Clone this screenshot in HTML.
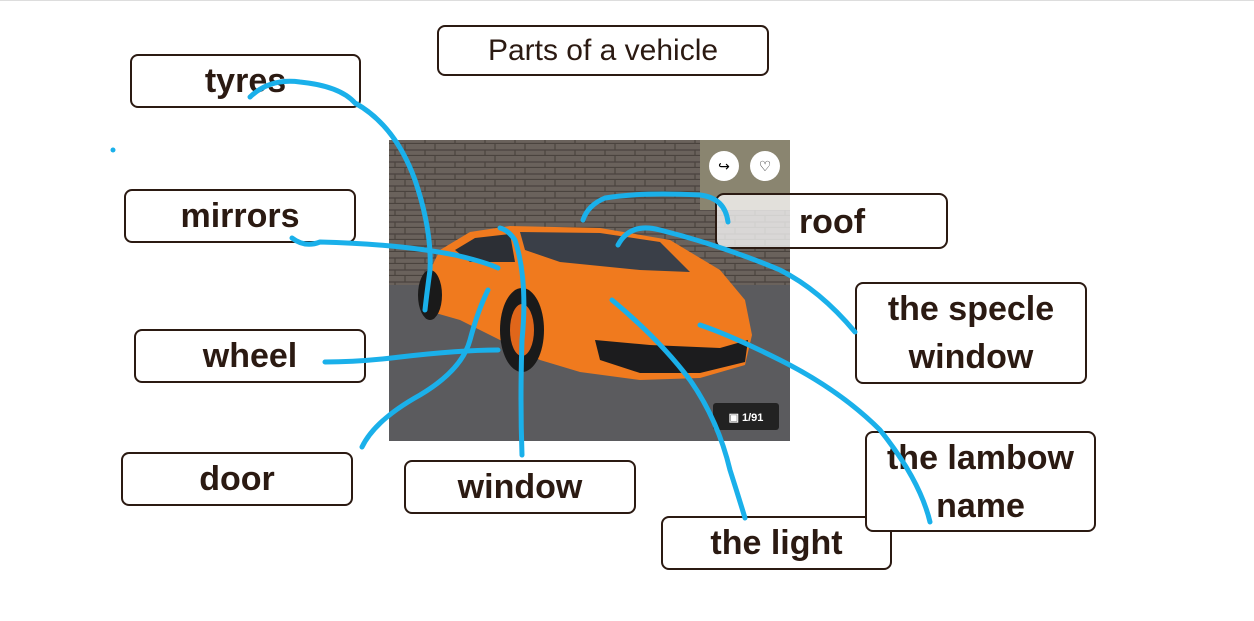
<!DOCTYPE html>
<html><head><meta charset="utf-8"><style>
body{margin:0;width:1254px;height:621px;background:#fff;position:relative;overflow:hidden;font-family:"Liberation Sans",sans-serif}
.b{position:absolute;border:2px solid #2b1a12;border-radius:8px;background:#fff;color:#2b1a12;font-weight:bold;font-size:34px;display:flex;align-items:center;justify-content:center;text-align:center;line-height:48px;box-sizing:border-box}
svg{position:absolute;left:0;top:0}
</style></head><body>
<div style="position:absolute;left:0;top:0;width:1254px;height:1px;background:#ddd"></div>
<div class="b" style="left:437px;top:25px;width:332px;height:51px;font-weight:normal;font-size:30px">Parts of a vehicle</div>
<div class="b" style="left:130px;top:54px;width:231px;height:54px">tyres</div>
<div class="b" style="left:124px;top:189px;width:232px;height:54px">mirrors</div>
<div class="b" style="left:134px;top:329px;width:232px;height:54px">wheel</div>
<div class="b" style="left:121px;top:452px;width:232px;height:54px">door</div>
<div class="b" style="left:404px;top:460px;width:232px;height:54px">window</div>
<div class="b" style="left:661px;top:516px;width:231px;height:54px">the light</div>
<div class="b" style="left:855px;top:282px;width:232px;height:102px">the specle<br>window</div>
<div class="b" style="left:865px;top:431px;width:231px;height:101px">the lambow<br>name</div>
<svg width="1254" height="621" viewBox="0 0 1254 621">
<defs><pattern id="br" width="30" height="12" patternUnits="userSpaceOnUse"><rect width="30" height="12" fill="#6a625c"/><path d="M0 11.5H30M15 0V6M0 6H30M5 6V12" stroke="#4a433e" stroke-width="1.2"/></pattern></defs>
<rect x="389" y="140" width="401" height="301" rx="4" fill="#58585a"/>
<rect x="389" y="140" width="401" height="148" fill="url(#br)"/>
<rect x="389" y="285" width="401" height="156" fill="#5b5b5e"/>
<rect x="700" y="140" width="90" height="70" fill="#8a8570"/>
<path d="M420 290 L440 250 L470 232 L510 226 L600 228 L670 240 L720 270 L745 300 L752 335 L745 365 L700 378 L640 380 L580 372 L540 360 L500 340 L460 320 L425 310 Z" fill="#f07a1e"/>
<path d="M520 232 L600 233 L660 242 L690 272 L640 270 L560 262 L525 250 Z" fill="#3a3f48"/>
<path d="M455 250 L475 238 L510 234 L515 262 L470 262 Z" fill="#2c2f35"/>
<path d="M595 340 L650 345 L720 348 L748 340 L745 362 L700 373 L640 373 L600 360 Z" fill="#1c1c1e"/>
<ellipse cx="522" cy="330" rx="22" ry="42" fill="#1a1a1a"/><ellipse cx="522" cy="330" rx="12" ry="26" fill="#e0661a"/>
<ellipse cx="430" cy="295" rx="12" ry="25" fill="#1a1a1a"/>
<rect x="713" y="403" width="66" height="27" rx="3" fill="#222"/>
<text x="746" y="421" fill="#fff" font-size="11" font-weight="bold" text-anchor="middle" font-family="Liberation Sans">▣ 1/91</text>
<circle cx="724" cy="166" r="15" fill="#fff"/><circle cx="765" cy="166" r="15" fill="#fff"/>
<text x="724" y="171" font-size="14" text-anchor="middle">↪</text><text x="765" y="171" font-size="14" text-anchor="middle">♡</text>
<rect x="716" y="194" width="231" height="54" rx="8" fill="#fff" fill-opacity="0.75" stroke="#2b1a12" stroke-width="2"/>
<text x="832" y="233" font-size="34" font-weight="bold" fill="#2b1a12" text-anchor="middle" font-family="Liberation Sans">roof</text>
<g fill="none" stroke="#1ab0ea" stroke-width="5" stroke-linecap="round" stroke-linejoin="round">
<path d="M250 97 Q270 78 300 82 Q340 86 355 103 Q395 125 415 180 Q432 230 430 270 Q426 300 425 310"/>
<path d="M292 238 Q305 248 320 242 Q400 244 455 255 Q485 262 498 268"/>
<path d="M325 362 Q360 362 400 357 Q460 350 498 350"/>
<path d="M362 447 Q375 420 420 395 Q462 370 470 340 Q478 310 488 290"/>
<path d="M522 455 Q520 400 522 340 Q528 280 515 240 Q508 230 500 228"/>
<path d="M745 518 Q738 495 730 470 Q718 420 690 380 Q660 340 612 300"/>
<path d="M930 522 Q920 480 880 430 Q840 390 780 360 Q730 335 700 325"/>
<path d="M855 332 Q820 290 780 270 Q720 245 660 230 Q630 222 618 245"/>
<path d="M728 222 Q725 198 700 195 Q640 192 605 198 Q588 205 583 220"/>
</g>
<circle cx="113" cy="150" r="2.5" fill="#1ab0ea"/>
</svg>
</body></html>
